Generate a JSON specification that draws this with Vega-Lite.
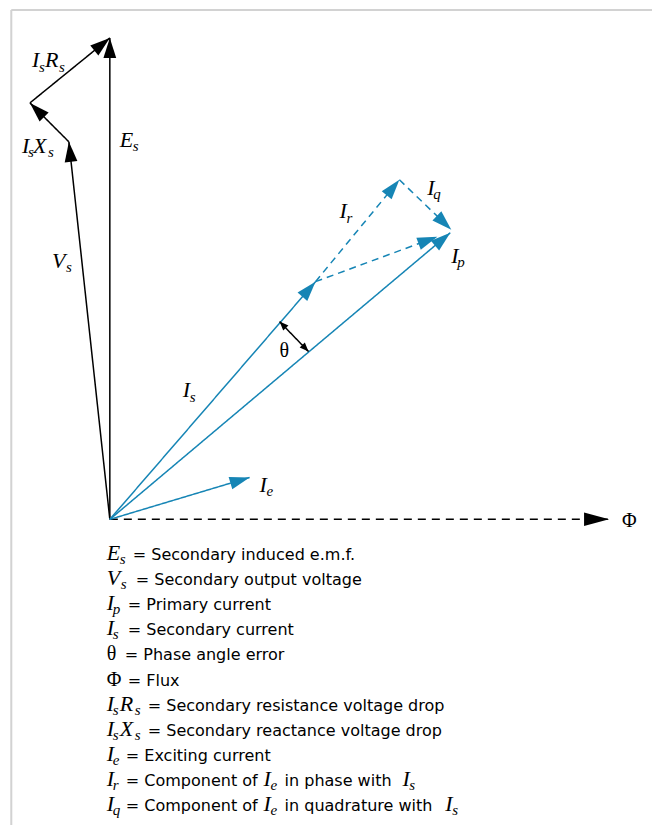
{
  "$schema": "https://vega.github.io/schema/vega-lite/v6.json",
  "width": 653,
  "height": 826,
  "autosize": {"type": "fit", "contains": "padding"},
  "padding": 0,
  "background": "white",
  "config": {"view": {"stroke": null}},
  "datasets": {
    "frame": [
      {"x": -98.7, "y": 510, "x2": 543, "y2": 510},
      {"x": -98.7, "y": 510, "x2": -98.7, "y2": -306}
    ],
    "vectors": [
      {"name": "Es", "line": "black", "x": 0, "y": 0, "x2": 0, "y2": 482},
      {"name": "Vs", "line": "black", "x": 0, "y": 0, "x2": -41, "y2": 378},
      {"name": "IsXs", "line": "black", "x": -41, "y": 378, "x2": -80, "y2": 417},
      {"name": "IsRs", "line": "black", "x": -80, "y": 417, "x2": 0, "y2": 482},
      {"name": "Phi", "line": "blackDash", "x": 0, "y": 0, "x2": 500, "y2": 0},
      {"name": "Is", "line": "blue", "x": 0, "y": 0, "x2": 206, "y2": 238},
      {"name": "Ip", "line": "blue", "x": 0, "y": 0, "x2": 341, "y2": 287},
      {"name": "Ie", "line": "blue", "x": 0, "y": 0, "x2": 140, "y2": 42},
      {"name": "Ir", "line": "blueDash", "x": 206, "y": 238, "x2": 290, "y2": 340},
      {"name": "Iq", "line": "blueDash", "x": 290, "y": 340, "x2": 342, "y2": 290},
      {"name": "IeShift", "line": "blueDash", "x": 206, "y": 238, "x2": 328, "y2": 283},
      {"name": "theta", "line": "black", "x": 170, "y": 198, "x2": 199, "y2": 168}
    ],
    "labels": [
      {"role": "main", "t": "I", "x": -78, "y": 453},
      {"role": "sub", "t": "s", "x": -71, "y": 448},
      {"role": "main", "t": "R", "x": -65, "y": 453},
      {"role": "sub", "t": "s", "x": -51, "y": 448},
      {"role": "main", "t": "I", "x": -88, "y": 367},
      {"role": "sub", "t": "s", "x": -82, "y": 363},
      {"role": "main", "t": "X", "x": -77, "y": 367},
      {"role": "sub", "t": "s", "x": -62, "y": 363},
      {"role": "main", "t": "E", "x": 10, "y": 373},
      {"role": "sub", "t": "s", "x": 23, "y": 369},
      {"role": "main", "t": "V", "x": -58, "y": 252},
      {"role": "sub", "t": "s", "x": -44, "y": 248},
      {"role": "main", "t": "I", "x": 73, "y": 123},
      {"role": "sub", "t": "s", "x": 80, "y": 118},
      {"role": "main", "t": "I", "x": 230, "y": 302},
      {"role": "sub", "t": "r", "x": 237, "y": 297},
      {"role": "main", "t": "I", "x": 318, "y": 325},
      {"role": "sub", "t": "q", "x": 324, "y": 321},
      {"role": "main", "t": "I", "x": 342, "y": 257},
      {"role": "sub", "t": "p", "x": 348, "y": 253},
      {"role": "main", "t": "I", "x": 150, "y": 27},
      {"role": "sub", "t": "e", "x": 157, "y": 23},
      {"role": "greek", "t": "θ", "x": 170, "y": 163},
      {"role": "greek", "t": "Φ", "x": 513, "y": -8},

      {"role": "main", "t": "E", "x": -3, "y": -41},
      {"role": "sub", "t": "s", "x": 10, "y": -45},
      {"role": "text", "t": "= Secondary induced e.m.f.", "x": 23, "y": -41},
      {"role": "main", "t": "V", "x": -3, "y": -66},
      {"role": "sub", "t": "s", "x": 11, "y": -70},
      {"role": "text", "t": "= Secondary output voltage", "x": 26, "y": -66},
      {"role": "main", "t": "I", "x": -3, "y": -91},
      {"role": "sub", "t": "p", "x": 3, "y": -95},
      {"role": "text", "t": "= Primary current", "x": 18, "y": -91},
      {"role": "main", "t": "I", "x": -3, "y": -116},
      {"role": "sub", "t": "s", "x": 3, "y": -120},
      {"role": "text", "t": "= Secondary current", "x": 18, "y": -116},
      {"role": "greek", "t": "θ", "x": -3, "y": -141},
      {"role": "text", "t": "= Phase angle error", "x": 15, "y": -141},
      {"role": "greek", "t": "Φ", "x": -3, "y": -167},
      {"role": "text", "t": "= Flux", "x": 18, "y": -167},
      {"role": "main", "t": "I", "x": -3, "y": -192},
      {"role": "sub", "t": "s", "x": 3, "y": -196},
      {"role": "main", "t": "R", "x": 10, "y": -192},
      {"role": "sub", "t": "s", "x": 25, "y": -196},
      {"role": "text", "t": "= Secondary resistance voltage drop", "x": 38, "y": -192},
      {"role": "main", "t": "I", "x": -3, "y": -217},
      {"role": "sub", "t": "s", "x": 3, "y": -221},
      {"role": "main", "t": "X", "x": 10, "y": -217},
      {"role": "sub", "t": "s", "x": 25, "y": -221},
      {"role": "text", "t": "= Secondary reactance voltage drop", "x": 38, "y": -217},
      {"role": "main", "t": "I", "x": -3, "y": -242},
      {"role": "sub", "t": "e", "x": 3, "y": -246},
      {"role": "text", "t": "= Exciting current", "x": 16, "y": -242},
      {"role": "main", "t": "I", "x": -3, "y": -267},
      {"role": "sub", "t": "r", "x": 3, "y": -271},
      {"role": "text", "t": "= Component of", "x": 16, "y": -267},
      {"role": "main", "t": "I", "x": 154, "y": -267},
      {"role": "sub", "t": "e", "x": 161, "y": -271},
      {"role": "text", "t": "in phase with", "x": 175, "y": -267},
      {"role": "main", "t": "I", "x": 293, "y": -267},
      {"role": "sub", "t": "s", "x": 300, "y": -271},
      {"role": "main", "t": "I", "x": -3, "y": -292},
      {"role": "sub", "t": "q", "x": 3, "y": -296},
      {"role": "text", "t": "= Component of", "x": 16, "y": -292},
      {"role": "main", "t": "I", "x": 154, "y": -292},
      {"role": "sub", "t": "e", "x": 161, "y": -296},
      {"role": "text", "t": "in quadrature with", "x": 175, "y": -292},
      {"role": "main", "t": "I", "x": 336, "y": -292},
      {"role": "sub", "t": "s", "x": 343, "y": -296}
    ]
  },
  "layer": [
    {
      "data": {"name": "frame"},
      "mark": {"type": "rule", "color": "#d2d2d2", "strokeWidth": 2},
      "encoding": {
        "x": {"field": "x", "type": "quantitative", "scale": {"domain": [-110, 543], "nice": false, "zero": false}, "axis": null},
        "y": {"field": "y", "type": "quantitative", "scale": {"domain": [-306, 520], "nice": false, "zero": false}, "axis": null},
        "x2": {"field": "x2"},
        "y2": {"field": "y2"}
      }
    },
    {
      "data": {"name": "vectors"},
      "mark": {"type": "rule", "strokeWidth": 1.5},
      "encoding": {
        "x": {"field": "x", "type": "quantitative", "scale": {"domain": [-110, 543], "nice": false, "zero": false}, "axis": null},
        "y": {"field": "y", "type": "quantitative", "scale": {"domain": [-306, 520], "nice": false, "zero": false}, "axis": null},
        "x2": {"field": "x2"},
        "y2": {"field": "y2"},
        "color": {"field": "line", "type": "nominal", "scale": {"domain": ["black", "blackDash", "blue", "blueDash"], "range": ["#000000", "#000000", "#1685b5", "#1685b5"]}, "legend": null},
        "strokeDash": {"field": "line", "type": "nominal", "scale": {"domain": ["black", "blackDash", "blue", "blueDash"], "range": [[1, 0], [8, 6], [1, 0], [7, 5]]}, "legend": null}
      }
    },
    {
      "data": {"name": "vectors"},
      "transform": [
        {"filter": "datum.name !== 'theta' && datum.name !== 'Phi'"},
        {"calculate": "atan2(datum.x2 - datum.x, datum.y2 - datum.y) * 180 / PI", "as": "ang"}
      ],
      "mark": {"type": "point", "shape": "M0,0L0.32,1L-0.32,1Z", "filled": true, "size": 1600, "opacity": 1, "strokeWidth": 0},
      "encoding": {
        "x": {"field": "x2", "type": "quantitative", "scale": {"domain": [-110, 543], "nice": false, "zero": false}, "axis": null},
        "y": {"field": "y2", "type": "quantitative", "scale": {"domain": [-306, 520], "nice": false, "zero": false}, "axis": null},
        "angle": {"field": "ang", "type": "quantitative", "scale": null},
        "color": {"field": "line", "type": "nominal", "scale": {"domain": ["black", "blackDash", "blue", "blueDash"], "range": ["#000000", "#000000", "#1685b5", "#1685b5"]}, "legend": null}
      }
    },
    {
      "data": {"name": "vectors"},
      "transform": [
        {"filter": "datum.name === 'Phi'"},
        {"calculate": "atan2(datum.x2 - datum.x, datum.y2 - datum.y) * 180 / PI", "as": "ang"}
      ],
      "mark": {"type": "point", "shape": "M0,0L0.27,1L-0.27,1Z", "filled": true, "size": 2500, "opacity": 1, "strokeWidth": 0, "color": "#000000"},
      "encoding": {
        "x": {"field": "x2", "type": "quantitative", "scale": {"domain": [-110, 543], "nice": false, "zero": false}, "axis": null},
        "y": {"field": "y2", "type": "quantitative", "scale": {"domain": [-306, 520], "nice": false, "zero": false}, "axis": null},
        "angle": {"field": "ang", "type": "quantitative", "scale": null}
      }
    },
    {
      "data": {"name": "vectors"},
      "transform": [
        {"filter": "datum.name === 'theta'"},
        {"calculate": "atan2(datum.x2 - datum.x, datum.y2 - datum.y) * 180 / PI", "as": "ang"}
      ],
      "mark": {"type": "point", "shape": "M0,0L0.4,1L-0.4,1Z", "filled": true, "size": 324, "opacity": 1, "strokeWidth": 0, "color": "#000000"},
      "encoding": {
        "x": {"field": "x2", "type": "quantitative", "scale": {"domain": [-110, 543], "nice": false, "zero": false}, "axis": null},
        "y": {"field": "y2", "type": "quantitative", "scale": {"domain": [-306, 520], "nice": false, "zero": false}, "axis": null},
        "angle": {"field": "ang", "type": "quantitative", "scale": null}
      }
    },
    {
      "data": {"name": "vectors"},
      "transform": [
        {"filter": "datum.name === 'theta'"},
        {"calculate": "atan2(datum.x - datum.x2, datum.y - datum.y2) * 180 / PI", "as": "ang"}
      ],
      "mark": {"type": "point", "shape": "M0,0L0.4,1L-0.4,1Z", "filled": true, "size": 324, "opacity": 1, "strokeWidth": 0, "color": "#000000"},
      "encoding": {
        "x": {"field": "x", "type": "quantitative", "scale": {"domain": [-110, 543], "nice": false, "zero": false}, "axis": null},
        "y": {"field": "y", "type": "quantitative", "scale": {"domain": [-306, 520], "nice": false, "zero": false}, "axis": null},
        "angle": {"field": "ang", "type": "quantitative", "scale": null}
      }
    },
    {
      "data": {"name": "labels"},
      "transform": [{"filter": "datum.role === 'main'"}],
      "mark": {"type": "text", "align": "left", "baseline": "alphabetic", "font": "Liberation Serif", "fontStyle": "italic", "fontSize": 22, "color": "#000000"},
      "encoding": {
        "x": {"field": "x", "type": "quantitative", "scale": {"domain": [-110, 543], "nice": false, "zero": false}, "axis": null},
        "y": {"field": "y", "type": "quantitative", "scale": {"domain": [-306, 520], "nice": false, "zero": false}, "axis": null},
        "text": {"field": "t"}
      }
    },
    {
      "data": {"name": "labels"},
      "transform": [{"filter": "datum.role === 'sub'"}],
      "mark": {"type": "text", "align": "left", "baseline": "alphabetic", "font": "Liberation Serif", "fontStyle": "italic", "fontSize": 15, "color": "#000000"},
      "encoding": {
        "x": {"field": "x", "type": "quantitative", "scale": {"domain": [-110, 543], "nice": false, "zero": false}, "axis": null},
        "y": {"field": "y", "type": "quantitative", "scale": {"domain": [-306, 520], "nice": false, "zero": false}, "axis": null},
        "text": {"field": "t"}
      }
    },
    {
      "data": {"name": "labels"},
      "transform": [{"filter": "datum.role === 'greek'"}],
      "mark": {"type": "text", "align": "left", "baseline": "alphabetic", "font": "Liberation Serif", "fontSize": 20, "color": "#000000"},
      "encoding": {
        "x": {"field": "x", "type": "quantitative", "scale": {"domain": [-110, 543], "nice": false, "zero": false}, "axis": null},
        "y": {"field": "y", "type": "quantitative", "scale": {"domain": [-306, 520], "nice": false, "zero": false}, "axis": null},
        "text": {"field": "t"}
      }
    },
    {
      "data": {"name": "labels"},
      "transform": [{"filter": "datum.role === 'text'"}],
      "mark": {"type": "text", "align": "left", "baseline": "alphabetic", "font": "DejaVu Sans", "fontSize": 16, "color": "#000000"},
      "encoding": {
        "x": {"field": "x", "type": "quantitative", "scale": {"domain": [-110, 543], "nice": false, "zero": false}, "axis": null},
        "y": {"field": "y", "type": "quantitative", "scale": {"domain": [-306, 520], "nice": false, "zero": false}, "axis": null},
        "text": {"field": "t"}
      }
    }
  ]
}
